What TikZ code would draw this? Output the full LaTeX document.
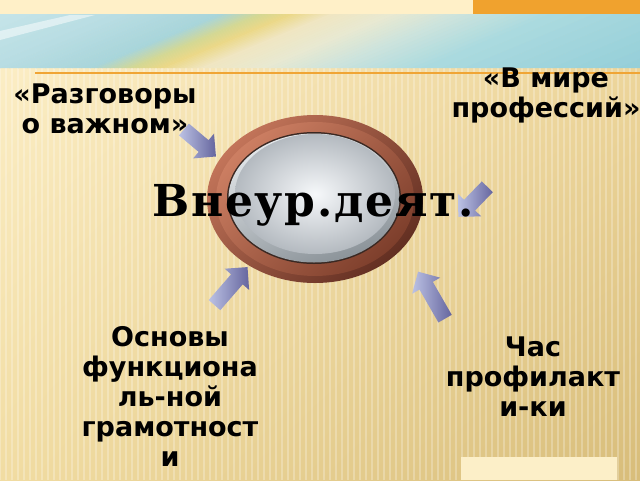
\documentclass[tikz,border=0pt]{standalone}
\usepackage{fontspec}
\setmainfont{DejaVu Sans}
\newfontfamily\titlefont[LetterSpace=4]{DejaVu Serif}
\usetikzlibrary{shapes.arrows,calc,shadings}
\definecolor{topcream}{HTML}{FFF0C8}
\definecolor{toporange}{HTML}{F0A22E}
\definecolor{lineorange}{HTML}{F0A535}
\definecolor{bgUL}{HTML}{FDF0CA}
\definecolor{bgUR}{HTML}{F0D9A0}
\definecolor{bgLL}{HTML}{F1DCA2}
\definecolor{bgLR}{HTML}{D8BD7A}
\definecolor{bn0}{HTML}{C8E6EA}
\definecolor{bn1}{HTML}{B6DCE2}
\definecolor{bn2}{HTML}{A8D5DA}
\definecolor{bn3}{HTML}{D4D894}
\definecolor{bn4}{HTML}{EBD888}
\definecolor{bn5}{HTML}{F0E6C2}
\definecolor{bn6}{HTML}{E8E9D2}
\definecolor{bn7}{HTML}{CBE3DD}
\definecolor{bn8}{HTML}{AADADF}
\definecolor{bn9}{HTML}{93CED8}
\definecolor{ringL}{HTML}{C27459}
\definecolor{ringD}{HTML}{632F22}
\definecolor{bandL}{HTML}{CC7E62}
\definecolor{bandD}{HTML}{7E3F2C}
\definecolor{rim}{HTML}{3A2822}
\definecolor{bevL}{HTML}{E4E8EB}
\definecolor{bevD}{HTML}{8A9298}
\definecolor{glassIn}{HTML}{F6F8FA}
\definecolor{glassOut}{HTML}{B4BAC0}
\definecolor{arrowlight}{HTML}{BCC2E4}
\definecolor{arrowdark}{HTML}{65659E}
\definecolor{bottomcream}{HTML}{FCEFC8}
\tikzset{
  labeltext/.style={align=center, font=\bfseries\fontsize{27}{30}\selectfont, text=black},
  flowarrow/.style={single arrow, draw=none, inner xsep=0pt, inner ysep=7.5pt,
    single arrow head extend=8.5pt, single arrow head indent=0pt,
    left color=arrowlight, right color=arrowdark, anchor=center}
}
\begin{document}
\begin{tikzpicture}[x=1pt,y=-1pt]
\useasboundingbox (0,0) rectangle (640,480);
% main background
\shade[upper left=bgUL, upper right=bgUR, lower left=bgLL, lower right=bgLR] (0,0) rectangle (640,480);
\foreach \x in {0,6,...,640} {
  \draw[white, opacity=0.25, line width=2pt] (\x,68) -- (\x,480);
}
% top strip
\fill[topcream] (0,0) rectangle (640,14);
\fill[toporange] (473,0) rectangle (640,14);
% banner
\begin{scope}
\clip (0,14) rectangle (640,68);
\foreach \ua/\ub/\ca/\cb in {-160/0/bn0/bn1, 0/90/bn1/bn2, 90/130/bn2/bn3, 130/160/bn3/bn4, 160/200/bn4/bn5, 200/260/bn5/bn6, 260/330/bn6/bn7, 330/420/bn7/bn8, 420/640/bn8/bn9} {
  \foreach \k in {0,...,9} {
    \pgfmathsetmacro\xa{\ua+(\ub-\ua)*\k/10}
    \pgfmathsetmacro\xb{\ua+(\ub-\ua)*(\k+1)/10+0.8}
    \pgfmathsetmacro\xc{\xb+130}
    \pgfmathsetmacro\xd{\xa+130}
    \pgfmathtruncatemacro\p{100-10*\k}
    \fill[\ca!\p!\cb] (\xa,68) -- (\xb,68) -- (\xc,14) -- (\xd,14) -- cycle;
  }
}
\fill[white, opacity=0.5] (0,40) -- (0,31) -- (70,15) -- (95,15) -- cycle;
\end{scope}
\draw[lineorange, line width=1.5pt] (35,73) -- (640,73);
\fill[bottomcream] (461,457) rectangle (617,480);
% central oval
\shade[top color=ringL, bottom color=ringD, shading angle=45] (315,199) ellipse [x radius=108pt, y radius=84pt];
\shade[top color=bandL, bottom color=bandD, shading angle=45] (315,199) ellipse [x radius=99pt, y radius=77pt];
\fill[rim] (314,198) ellipse [x radius=87pt, y radius=66pt];
\shade[top color=bevL, bottom color=bevD, shading angle=20] (314,198) ellipse [x radius=85.5pt, y radius=64.5pt];
\shade[inner color=glassIn, outer color=glassOut] (315,194) ellipse [x radius=80pt, y radius=60pt];
% labels
\node[labeltext] (lab1) at (105,109) {«Разговоры\\о важном»};
\node[labeltext] (lab2) at (546,95) {«В мире\\профессий»};
\node[labeltext] (lab3) at (170,396) {Основы\\функциона\\ль-ной\\грамотност\\и};
\node[labeltext] (lab4) at (533,377) {Час\\профилакт\\и-ки};
% arrows
\coordinate (t1) at (181,127); \coordinate (h1) at (213,154);
\coordinate (t2) at (490,184); \coordinate (h2) at (461,214);
\coordinate (t3) at (212,308); \coordinate (h3) at (245,270);
\coordinate (t4) at (447,322); \coordinate (h4) at (420,275);
\foreach \i in {1,2,3,4} {
  \path let \p1=($(h\i)-(t\i)$), \n1={atan2(\y1,\x1)}, \n2={veclen(\x1,\y1)} in
    node[flowarrow, rotate=\n1, minimum height=\n2] (arr\i) at ($(t\i)!0.5!(h\i)$) {};
}
% title on top
\node[font=\titlefont\bfseries\fontsize{44}{50}\selectfont] (title) at (313,205) {Внеур.деят.};
\end{tikzpicture}
\end{document}
